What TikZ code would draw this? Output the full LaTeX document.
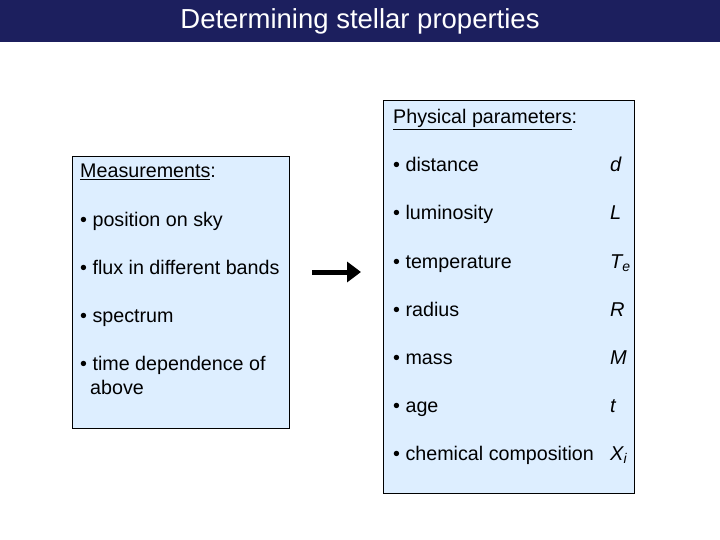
\documentclass[tikz,border=0pt]{standalone}
\usepackage{fontspec}
\setmainfont{Liberation Sans}
\usetikzlibrary{arrows.meta}
\definecolor{navy}{HTML}{1C1F5E}
\definecolor{pale}{HTML}{DDEEFF}
\begin{document}
\begin{tikzpicture}[x=1pt,y=-1pt,
  box/.style={draw=black,fill=pale,line width=0.8pt},
  txt/.style={anchor=base west,inner sep=0pt,font=\fontsize{19.7}{22}\selectfont}]
\useasboundingbox (0,0) rectangle (720,540);
\fill[navy] (0,0) rectangle (720,42) coordinate (tb);
\node[font=\fontsize{27.5}{30}\selectfont,text=white,anchor=base] (title) at (360,29) {Determining stellar properties};
\draw[box] (72,156) rectangle (289,428) coordinate (lb);
\draw[box] (383,100) rectangle (634,493) coordinate (rb);
\node[txt] (m0) at (80,178) {\underline{Measurements}:};
\node[txt] (m1) at (80,226) {• position on sky};
\node[txt] (m2) at (80,274) {• flux in different bands};
\node[txt] (m3) at (80,322) {• spectrum};
\node[txt] (m4) at (80,370) {• time dependence of};
\node[txt] (m5) at (90,394) {above};
\node[txt] (p0) at (393,124) {\underline{Physical parameters}:};
\foreach \n/\t/\s/\y in {1/distance/d/172, 2/luminosity/L/220, 3/temperature/{T\textsubscript{e}}/268, 4/radius/R/316, 5/mass/M/364, 6/age/t/412, 7/chemical composition/{X\textsubscript{i}}/460}{
  \node[txt] (q\n) at (393,\y) {• \t};
  \node[txt] (s\n) at (610,\y) {\fontsize{20}{22}\selectfont\itshape\s};
}
\coordinate (a1) at (312,272);
\coordinate (a2) at (361,272);
\draw[line width=5pt,-{Triangle[length=14pt,width=20pt]}] (a1) -- (a2);
\end{tikzpicture}
\end{document}
